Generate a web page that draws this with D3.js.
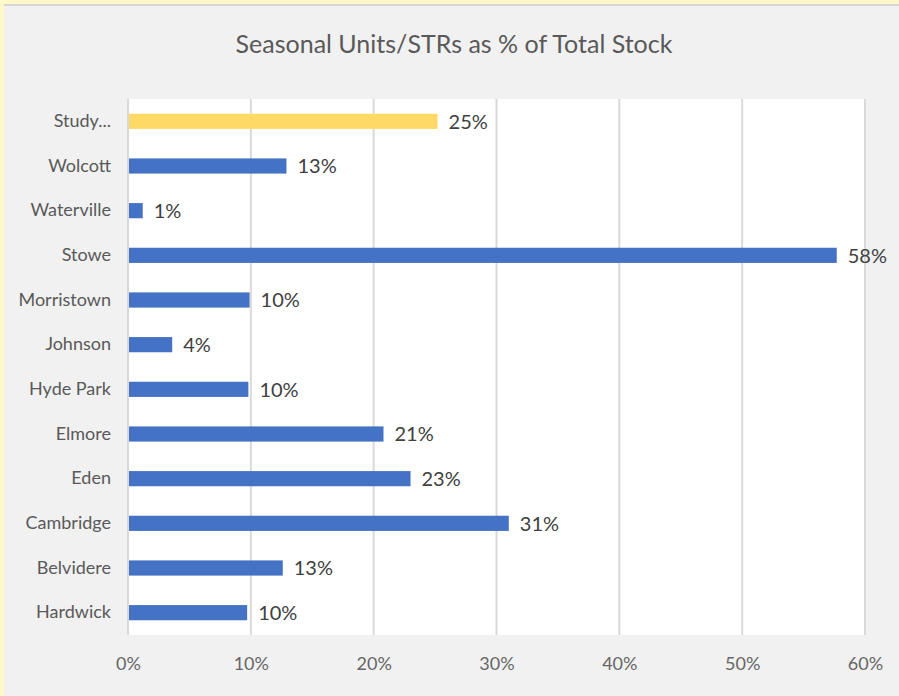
<!DOCTYPE html>
<html>
<head>
<meta charset="utf-8">
<script src="https://cdn.jsdelivr.net/npm/d3@7"></script>
<style>
  html, body { margin: 0; padding: 0; background: #fff8c8; }
  svg { display: block; font-family: Lato, "Open Sans", sans-serif; }
</style>
</head>
<body>
<script>
// chart data, top to bottom as shown
var towns = ["Study...", "Wolcott", "Waterville", "Stowe", "Morristown", "Johnson",
             "Hyde Park", "Elmore", "Eden", "Cambridge", "Belvidere", "Hardwick"];
var shares = [25.2, 12.9, 1.2, 57.7, 9.9, 3.6, 9.8, 20.8, 23.0, 31.0, 12.6, 9.7];
var labels = ["25%", "13%", "1%", "58%", "10%", "4%", "10%", "21%", "23%", "31%", "13%", "10%"];
var ticks = [0, 10, 20, 30, 40, 50, 60];

var width = 899, height = 696;
var margin = {top: 99, right: 34, bottom: 61, left: 128};

var svg = d3.select("body").append("svg")
    .attr("width", width)
    .attr("height", height);

// cream edge + gray chart background
svg.append("rect").attr("width", width).attr("height", height).style("fill", "#fff8c8");
svg.append("rect").attr("x", 4).attr("y", 4).attr("width", width - 4).attr("height", height - 4)
    .style("fill", "#f1f1f1");
svg.append("line").attr("x1", 4).attr("x2", width).attr("y1", 5).attr("y2", 5)
    .style("stroke", "#d6d6d6").style("stroke-width", 2);

var x = d3.scaleLinear().domain([0, 60]).range([margin.left, width - margin.right]);
var y = d3.scaleBand().domain(towns).range([margin.top, height - margin.bottom]).paddingInner(0.66).paddingOuter(0.33);

svg.append("rect")
    .attr("x", margin.left).attr("y", margin.top)
    .attr("width", width - margin.left - margin.right)
    .attr("height", height - margin.top - margin.bottom)
    .style("fill", "#ffffff");

// gridlines
svg.append("g").selectAll("line")
    .data(ticks)
    .enter().append("line")
    .attr("x1", function(d) { return x(d); })
    .attr("x2", function(d) { return x(d); })
    .attr("y1", margin.top)
    .attr("y2", height - margin.bottom)
    .style("stroke", "#d9d9d9")
    .style("stroke-width", 2);

// x axis labels
var xAxis = d3.axisBottom(x).tickValues(ticks).tickSize(0).tickPadding(22)
    .tickFormat(function(d) { return d + "%"; });
svg.append("g")
    .attr("transform", "translate(0," + (height - margin.bottom) + ")")
    .call(xAxis)
    .call(function(g) { g.select(".domain").remove(); })
    .selectAll("text")
    .style("font-family", "Lato, sans-serif")
    .style("font-size", "18px")
    .style("fill", "#666666");

// category labels
var yAxis = d3.axisLeft(y).tickSize(0).tickPadding(17);
svg.append("g")
    .attr("transform", "translate(" + margin.left + ",0)")
    .call(yAxis)
    .call(function(g) { g.select(".domain").remove(); })
    .selectAll("text")
    .style("font-family", "Lato, sans-serif")
    .style("font-size", "18px")
    .style("fill", "#595959");

// bars
svg.append("g").selectAll("rect")
    .data(towns)
    .enter().append("rect")
    .attr("x", x(0) + 1)
    .attr("y", function(d) { return y(d); })
    .attr("width", function(d, i) { return x(shares[i]) - x(0) - 1; })
    .attr("height", y.bandwidth())
    .style("fill", function(d, i) { return i === 0 ? "#ffd966" : "#4472c4"; });

// value labels
svg.append("g").selectAll("text")
    .data(towns)
    .enter().append("text")
    .attr("x", function(d, i) { return x(shares[i]) + 11; })
    .attr("y", function(d) { return y(d) + y.bandwidth() / 2; })
    .attr("dy", "0.36em")
    .text(function(d, i) { return labels[i]; })
    .style("font-size", "20px")
    .style("fill", "#404040");

// title
svg.append("text")
    .attr("x", 454)
    .attr("y", 53)
    .attr("text-anchor", "middle")
    .text("Seasonal Units/STRs as % of Total Stock")
    .style("font-size", "25px")
    .style("fill", "#595959");
</script>
</body>
</html>
